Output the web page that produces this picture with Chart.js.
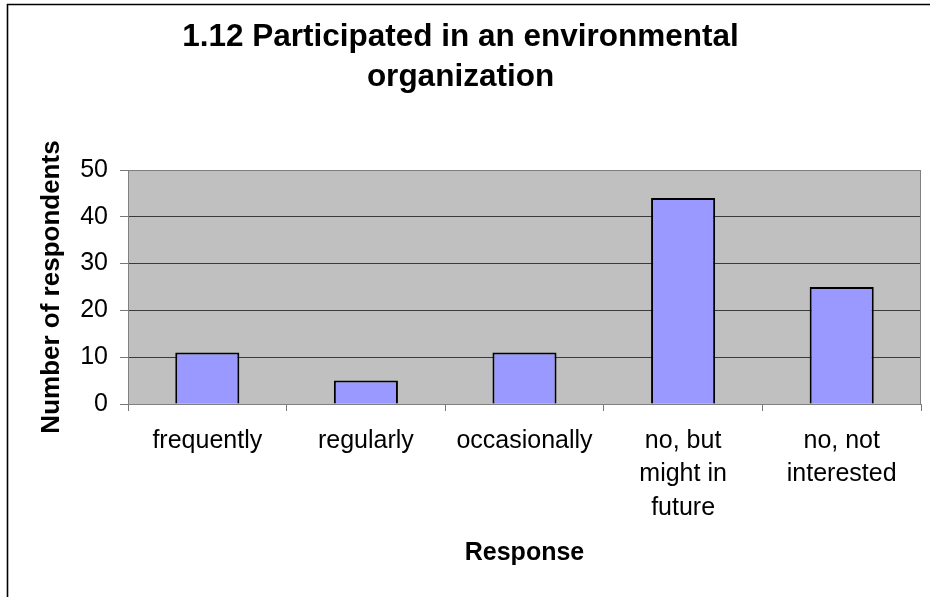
<!DOCTYPE html>
<html>
<head>
<meta charset="utf-8">
<script src="https://cdn.jsdelivr.net/npm/chart.js@4/dist/chart.umd.min.js"></script>
<style>
  html, body { margin: 0; padding: 0; background: #fff; }
  #wrap { width: 930px; height: 597px; position: relative; }
</style>
</head>
<body>
<div id="wrap"><canvas id="chart"></canvas></div>
<script>
const categories = [
  'frequently',
  'regularly',
  'occasionally',
  ['no, but', 'might in', 'future'],
  ['no, not', 'interested']
];
const respondents = [11, 5, 11, 44, 25];
const yTicks = [0, 10, 20, 30, 40, 50];

const FONT = "'Liberation Sans', Arial, Helvetica, sans-serif";

// grey plot area, its border and the outer frame of the chart
const frame = {
  id: 'frame',
  beforeDatasetsDraw(chart) {
    const { ctx, chartArea: a } = chart;
    ctx.save();
    ctx.strokeStyle = '#808080';
    ctx.lineWidth = 1;
    ctx.strokeRect(a.left + 0.5, a.top + 0.5, a.right - a.left - 1, a.bottom - a.top);
    ctx.restore();
  },
  beforeDraw(chart) {
    const { ctx, chartArea: a } = chart;
    ctx.save();
    ctx.fillStyle = '#fff';
    ctx.fillRect(0, 0, chart.width, chart.height);
    ctx.fillStyle = '#C0C0C0';
    ctx.fillRect(a.left, a.top, a.right - a.left, a.bottom - a.top);
    ctx.strokeStyle = '#000';
    ctx.lineWidth = 1.6;
    ctx.beginPath();
    ctx.moveTo(7.5, chart.height);
    ctx.lineTo(7.5, 4.5);
    ctx.lineTo(chart.width, 4.5);
    ctx.stroke();
    ctx.restore();
  }
};

new Chart(document.getElementById('chart'), {
  type: 'bar',
  data: {
    labels: categories,
    datasets: [{
      label: 'Number of respondents',
      data: respondents,
      backgroundColor: '#9999FF',
      borderColor: '#000',
      borderWidth: 2,
      categoryPercentage: 1,
      barPercentage: 0.404
    }]
  },
  options: {
    responsive: true,
    maintainAspectRatio: false,
    animation: false,
    layout: { padding: { left: 0, right: 9, top: 0, bottom: 0 } },
    scales: {
      x: {
        afterFit: s => { s.height = 193; },
        grid: {
          drawOnChartArea: false,
          drawTicks: true,
          tickLength: 7,
          tickColor: '#777',
          offset: true
        },
        border: { color: '#808080' },
        ticks: {
          color: '#000',
          padding: 13,
          maxRotation: 0,
          autoSkip: false,
          font: { family: FONT, size: 25, lineHeight: 1.34 }
        },
        title: {
          display: true,
          text: 'Response',
          color: '#000',
          font: { family: FONT, size: 25, weight: 'bold', lineHeight: 1.2 },
          padding: { top: 0, bottom: 29 }
        }
      },
      y: {
        min: 0,
        max: 50,
        afterFit: s => { s.width = 128; },
        afterBuildTicks: s => { s.ticks = yTicks.map(v => ({ value: v })); },
        grid: {
          color: '#3a3a3a',
          lineWidth: 1,
          tickLength: 8,
          tickColor: '#777'
        },
        border: { color: '#808080' },
        ticks: {
          color: '#000',
          padding: 12,
          font: { family: FONT, size: 25 }
        },
        title: {
          display: true,
          text: 'Number of respondents',
          color: '#000',
          font: { family: FONT, size: 26, weight: 'bold', lineHeight: 1.2 },
          padding: { top: 36, bottom: 0 }
        }
      }
    },
    plugins: {
      legend: { display: false },
      tooltip: { enabled: false },
      title: {
        display: true,
        text: ['1.12 Participated in an environmental', 'organization'],
        color: '#000',
        font: { family: FONT, size: 31.5, weight: 'bold', lineHeight: 1.27 },
        padding: { top: 17, bottom: 73 }
      }
    }
  },
  plugins: [frame]
});
</script>
</body>
</html>
